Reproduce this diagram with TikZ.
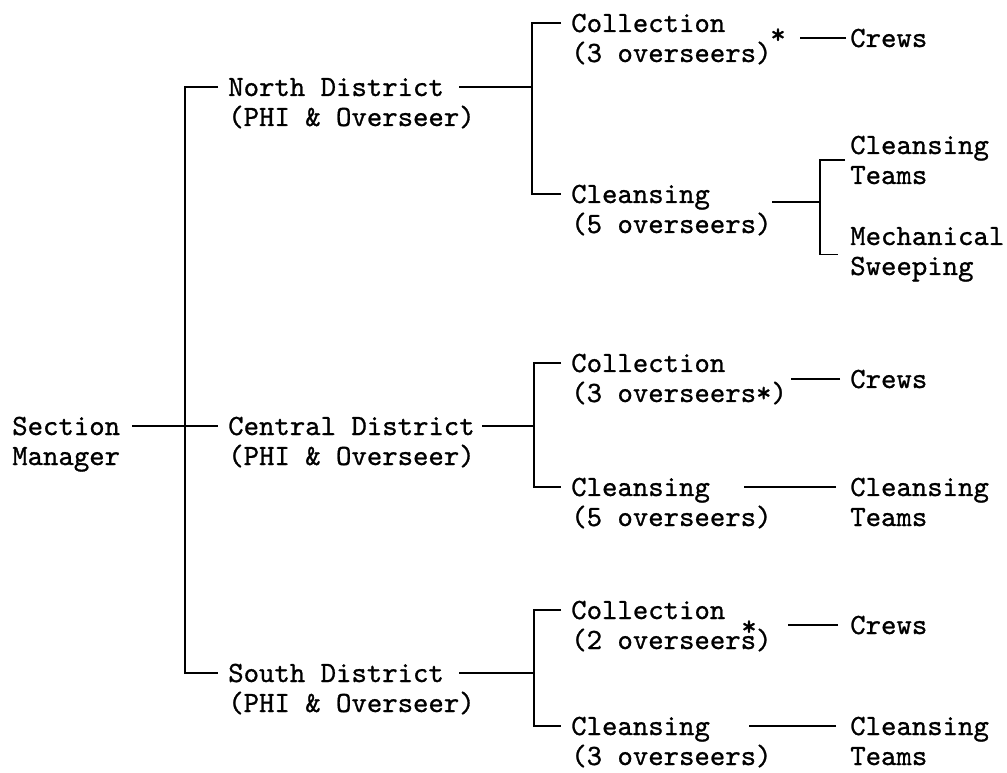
\documentclass[tikz,border=0pt]{standalone}
\usepackage{fontspec}
\newfontfamily\typew{lmmono10-regular}[Extension=.otf, FakeBold=0.9]
\usepackage{tikz}

\begin{document}
\begin{tikzpicture}[x=0.75pt, y=-0.75pt,
    txt/.style={font=\typew\fontsize{22}{22.5}\selectfont, align=left, anchor=base west, inner sep=0pt},
    astx/.style={font=\typew\fontsize{22}{22.5}\selectfont, inner sep=0pt},
    link/.style={line width=1pt}]
    \useasboundingbox (0,0) rectangle (1007,773);
    % top levels
    \node[txt] (sec) at (12,465) {Section\\Manager};
    \node[txt] (nd) at (228,126) {North District\\(PHI \& Overseer)};
    \node[txt] (cd) at (228,465) {Central District\\(PHI \& Overseer)};
    \node[txt] (sd) at (228,712) {South District\\(PHI \& Overseer)};
    % north
    \node[txt] (ncol) at (571,62) {Collection\\(3 overseers)};
    \node[astx] (nast) at (778,36) {*};
    \node[txt] (ncle) at (571,233) {Cleansing\\(5 overseers)};
    \node[txt] (ncrew) at (850,47) {Crews};
    \node[txt] (nteam) at (850,184) {Cleansing\\Teams};
    \node[txt] (nsweep) at (850,275) {Mechanical\\Sweeping};
    % central
    \node[txt] (ccol) at (571,402) {Collection\\(3 overseers*)};
    \node[txt] (ccle) at (571,526) {Cleansing\\(5 overseers)};
    \node[txt] (ccrew) at (850,388) {Crews};
    \node[txt] (cteam) at (850,526) {Cleansing\\Teams};
    % south
    \node[txt] (scol) at (571,649) {Collection\\(2 overseers)};
    \node[astx] (sast) at (749,628) {*};
    \node[txt] (scle) at (571,765) {Cleansing\\(3 overseers)};
    \node[txt] (screw) at (850,634) {Crews};
    \node[txt] (steam) at (850,765) {Cleansing\\Teams};

    \coordinate (nbr) at (532,87);
    \coordinate (cbr) at (534,426);
    \coordinate (sbr) at (534,673);
    \coordinate (nsub) at (820,202);

    % trunk
    \draw[link] ([shift={(-10,-39)}]nd.base west) -- ++(-33,0) |- ([shift={(-10,-39)}]sd.base west);
    \draw[link] ([shift={(12,-39)}]sec.base east) -- ([shift={(-10,-39)}]cd.base west);
    % brackets
    \draw[link] ([shift={(-10,-39)}]ncol.base west) -| (nbr) |- ([shift={(-10,-39)}]ncle.base west);
    \draw[link] ([shift={(-10,-39)}]ccol.base west) -| (cbr) |- ([shift={(-10,-39)}]ccle.base west);
    \draw[link] ([shift={(-10,-39)}]scol.base west) -| (sbr) |- ([shift={(-10,-39)}]scle.base west);
    \draw[link] ([shift={(231,-39)}]nd.base west) -- (nbr);
    \draw[link] ([shift={(254,-39)}]cd.base west) -- (cbr);
    \draw[link] ([shift={(231,-39)}]sd.base west) -- (sbr);
    \draw[link] ([shift={(-5,0)}]nteam.west) -| (nsub) |- ([shift={(-12,0)}]nsweep.west);
    \draw[link] ([shift={(201,-31)}]ncle.base west) -- (nsub);
    % crews and teams
    \draw[link] ([shift={(-4,0)}]ncrew.west) -- ++(-46,0);
    \draw[link] ([shift={(-10,0)}]ccrew.west) -- ++(-49,0);
    \draw[link] ([shift={(-12,0)}]screw.west) -- ++(-50,0);
    \draw[link] ([shift={(-14,-39)}]cteam.base west) -- ++(-92,0);
    \draw[link] ([shift={(-14,-39)}]steam.base west) -- ++(-87,0);
\end{tikzpicture}
\end{document}
